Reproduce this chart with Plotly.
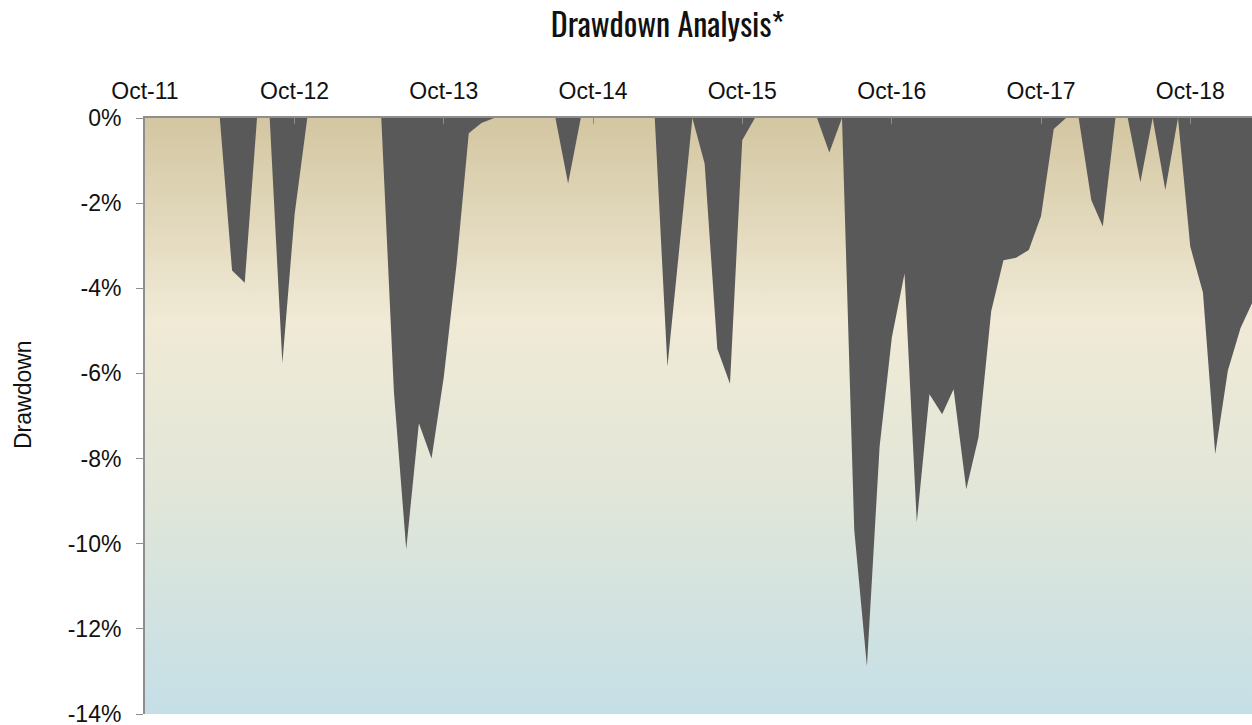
import base64
import pandas as pd
import plotly.graph_objects as go

# ---- data (monthly drawdown, %), first month = Oct-2011 ----
start_month = "2011-10-01"
drawdown = [
    0, 0, 0, 0, 0, 0, 0, -3.58, -3.87, 0,
    0, -5.76, -2.26, 0, 0, 0, 0, 0, 0, 0,
    -6.45, -10.13, -7.17, -8.0, -6.08, -3.45, -0.36, -0.12, 0, 0,
    0, 0, 0, 0, -1.54, 0, 0, 0, 0, 0,
    0, 0, -5.84, -2.92, 0, -1.07, -5.42, -6.24, -0.52, 0,
    0, 0, 0, 0, 0, -0.81, 0, -9.68, -12.88, -7.72,
    -5.15, -3.65, -9.50, -6.49, -6.96, -6.37, -8.72, -7.50, -4.54, -3.34,
    -3.28, -3.10, -2.30, -0.26, 0, 0, -1.93, -2.55, 0, 0,
    -1.51, 0, -1.69, 0, -3.02, -4.10, -7.89, -5.93, -4.93, -4.35,
]
months = pd.date_range(start_month, periods=len(drawdown), freq="MS")

y_tick_values = [0, -2, -4, -6, -8, -10, -12, -14]
y_tick_labels = ["0%", "-2%", "-4%", "-6%", "-8%", "-10%", "-12%", "-14%"]

title_text = "Drawdown Analysis*"
y_title_text = "Drawdown"

FIG_W, FIG_H = 1252, 725

# ---- background gradient (plot area) ----
svg = (
    '<svg xmlns="http://www.w3.org/2000/svg" width="100" height="100" '
    'viewBox="0 0 100 100" preserveAspectRatio="none">'
    '<defs><linearGradient id="g" x1="0" y1="0" x2="0" y2="1">'
    '<stop offset="0" stop-color="#D3C6A1"/>'
    '<stop offset="0.34" stop-color="#F0EAD6"/>'
    '<stop offset="0.62" stop-color="#E2E6D8"/>'
    '<stop offset="1" stop-color="#C5DFE7"/>'
    '</linearGradient></defs>'
    '<rect x="0" y="0" width="100" height="100" fill="url(#g)"/></svg>'
)
svg_uri = "data:image/svg+xml;base64," + base64.b64encode(svg.encode()).decode()

fig = go.Figure()
fig.add_trace(
    go.Scatter(
        x=months,
        y=drawdown,
        mode="lines",
        line=dict(width=0, color="#595959"),
        fill="tozeroy",
        fillcolor="#595959",
        hoverinfo="x+y",
        showlegend=False,
    )
)

axis_grey = "#8E8E8E"
tick_font = dict(family="Liberation Sans, Arial, sans-serif", size=23, color="#111111")
fig.update_layout(
    template="none",
    width=FIG_W,
    height=FIG_H,
    margin=dict(l=145, r=0, t=118, b=11, autoexpand=False),
    paper_bgcolor="white",
    plot_bgcolor="white",
    title=dict(
        text=title_text,
        x=667.5 / FIG_W,
        xanchor="center",
        y=1 - 25.5 / FIG_H,
        yanchor="middle",
        font=dict(family="Oswald, 'Roboto Condensed', 'DejaVu Sans Condensed', 'Liberation Sans Narrow', sans-serif",
                  size=32, color="#111111"),
    ),
    images=[
        dict(
            source=svg_uri,
            xref="paper", yref="paper",
            x=0, y=1, sizex=1, sizey=1,
            xanchor="left", yanchor="top",
            sizing="stretch",
            layer="below",
        )
    ],
    xaxis=dict(
        side="top",
        type="date",
        automargin=False,
        range=[months[0], months[-1]],
        tick0=start_month,
        dtick="M12",
        tickformat="%b-%y",
        ticks="inside",
        ticklen=6,
        tickwidth=1,
        tickcolor=axis_grey,
        showline=True,
        linecolor=axis_grey,
        linewidth=2,
        showgrid=False,
        zeroline=False,
        tickfont=tick_font,
        ticklabelstandoff=8,
        ticklabeloverflow="allow",
    ),
    yaxis=dict(
        automargin=False,
        range=[-14, 0],
        tickvals=y_tick_values,
        ticktext=y_tick_labels,
        ticks="outside",
        ticklen=7,
        tickwidth=1,
        tickcolor=axis_grey,
        showline=True,
        linecolor=axis_grey,
        linewidth=2,
        showgrid=False,
        zeroline=False,
        tickfont=tick_font,
        ticklabelstandoff=10,
        ticklabeloverflow="allow",
    ),
    annotations=[
        dict(
            text=y_title_text,
            textangle=-90,
            xref="paper", yref="paper",
            x=0, y=(714 - 395) / (714 - 118),
            xanchor="center", yanchor="middle",
            xshift=-122,
            showarrow=False,
            font=tick_font,
        )
    ],
)

fig.write_html(
    "out.html",
    config={"displayModeBar": False},
    post_script="document.body.style.margin='0';document.body.style.overflow='hidden';",
)
